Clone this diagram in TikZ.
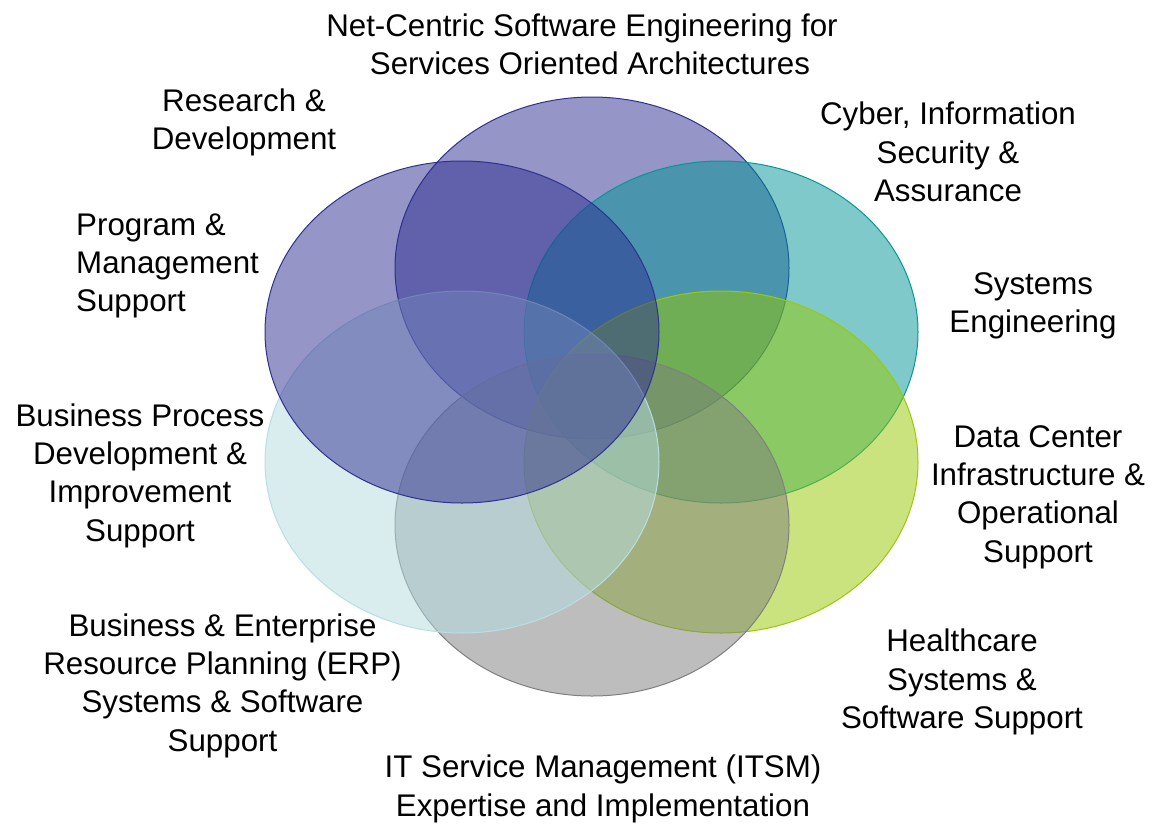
\documentclass[tikz,border=0pt]{standalone}
\usepackage{fontspec}
\setmainfont{Liberation Sans}
\usetikzlibrary{shapes.geometric}
\definecolor{cPurple}{RGB}{45,45,145}
\definecolor{cPurpleLine}{RGB}{46,49,146}
\definecolor{cTeal}{RGB}{0,148,150}
\definecolor{cTealLine}{RGB}{0,153,153}
\definecolor{cGreen}{RGB}{151,201,0}
\definecolor{cGreenLine}{RGB}{153,204,0}
\definecolor{cGray}{RGB}{125,125,125}
\definecolor{cGrayLine}{RGB}{128,128,128}
\definecolor{cCyan}{RGB}{181,221,225}
\definecolor{cCyanLine}{RGB}{182,223,230}
\tikzset{
  venn/.style={ellipse, minimum width=394pt, minimum height=342pt, inner sep=0pt, fill opacity=0.5, line width=1pt},
  lbl/.style={align=center, inner sep=0pt, font=\fontsize{31.3}{38.3}\selectfont, text=black}
}
\begin{document}
\begin{tikzpicture}[x=1pt,y=-1pt]
\useasboundingbox[fill=white] (0,0) rectangle (1152,823);
% ellipses
\node[venn, fill=cPurple, draw=cPurpleLine] (top) at (592,268) {};
\node[venn, fill=cTeal, draw=cTealLine] (topright) at (721,332) {};
\node[venn, fill=cGreen, draw=cGreenLine] (right) at (721,462) {};
\node[venn, fill=cGray, draw=cGrayLine] (bottom) at (592,525) {};
\node[venn, fill=cCyan, draw=cCyanLine] (left) at (462,462) {};
\node[venn, fill=cPurple, draw=cPurpleLine] (topleft) at (462,332) {};
% labels
\node[lbl] (netcentric) at (585,44) {Net-Centric Software Engineering for\hspace*{6pt}\\\hspace*{10pt}Services Oriented Architectures};
\node[lbl] (research) at (244,122.5) {Research \&\\Development};
\node[lbl] (cyber) at (948,152) {Cyber, Information\\Security \&\\Assurance};
\node[lbl, align=left, anchor=west] (program) at (76,266) {Program \&\\Management\\Support};
\node[lbl] (systems) at (1033,306) {Systems\\Engineering};
\node[lbl] (bpd) at (140,475.5) {Business Process\\Development \&\\Improvement\\Support};
\node[lbl] (datacenter) at (1038,497) {Data Center\\Infrastructure \&\\Operational\\Support};
\node[lbl] (erp) at (222.5,685.5) {Business \& Enterprise\\Resource Planning (ERP)\\Systems \& Software\\Support};
\node[lbl] (health) at (962,682) {Healthcare\\Systems \&\\Software Support};
\node[lbl] (itsm) at (603,789) {IT Service Management (ITSM)\\Expertise and Implementation};
\end{tikzpicture}
\end{document}
